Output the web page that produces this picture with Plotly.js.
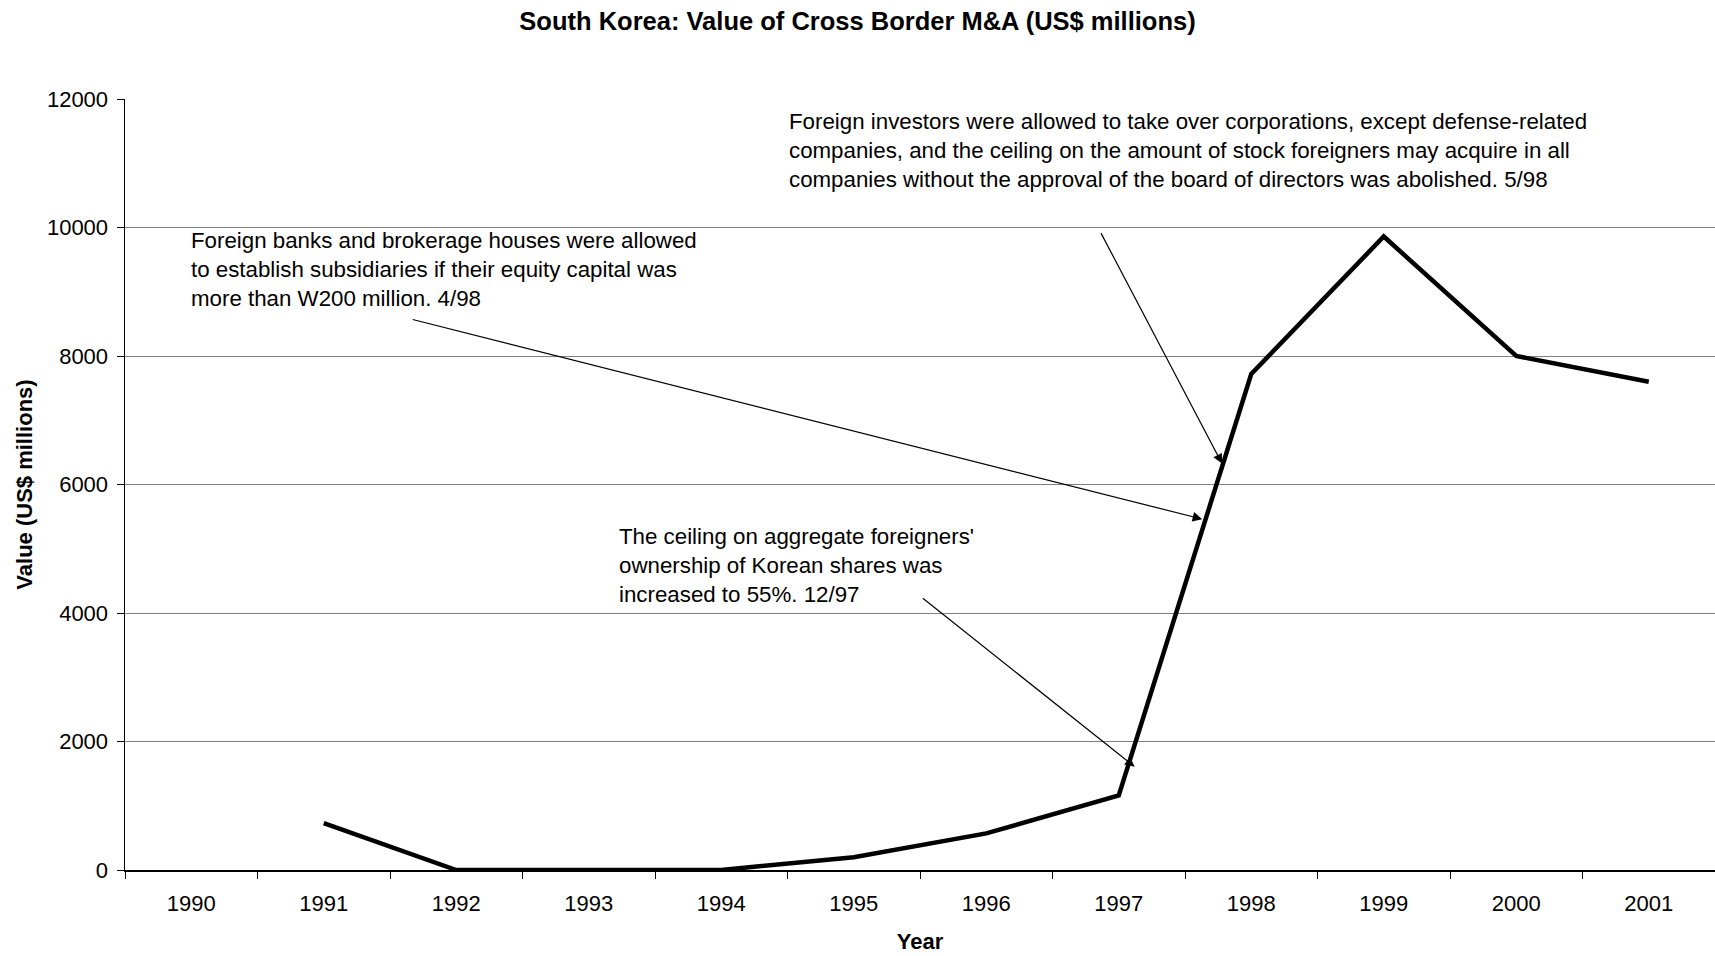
<!DOCTYPE html>
<html>
<head>
<meta charset="utf-8">
<script src="https://cdn.plot.ly/plotly-3.0.1.min.js"></script>
<style>
  html, body { margin: 0; padding: 0; background: #ffffff; }
  #chart { width: 1715px; height: 956px; }
</style>
</head>
<body>
<div id="chart"></div>
<script>
// ---- Data ----
const years = ["1990", "1991", "1992", "1993", "1994", "1995", "1996", "1997", "1998", "1999", "2000", "2001"];
const values = [null, 730, 0, 0, 0, 200, 570, 1160, 7720, 9860, 8000, 7600];

const chartTitle = "South Korea: Value of Cross Border M&A (US$ millions)";
const xTitle = "Year";
const yTitle = "Value (US$ millions)";
const yTicks = [0, 2000, 4000, 6000, 8000, 10000, 12000];

const noteTexts = [
  "Foreign investors were allowed to take over corporations, except defense-related<br>companies, and the ceiling on the amount of stock foreigners may acquire in all<br>companies without the approval of the board of directors was abolished. 5/98",
  "Foreign banks and brokerage houses were allowed<br>to establish subsidiaries if their equity capital was<br>more than W200 million. 4/98",
  "The ceiling on aggregate foreigners'<br>ownership of Korean shares was<br>increased to 55%. 12/97"
];
// text anchor positions (category index, value) and arrow tails/tips
const noteX = [4.493, -0.017, 3.213];
const noteY = [11200, 9340, 4740];
const arrowTailX = [6.86, 1.66, 5.51];
const arrowTailY = [9936, 8574, 4248];
const arrowTipX = [7.78, 7.63, 7.12];
const arrowTipY = [6325, 5461, 1607];

const FONT = "'Liberation Sans', Arial, Helvetica, sans-serif";

const trace = {
  type: "scatter",
  mode: "lines",
  x: years,
  y: values,
  connectgaps: false,
  line: { color: "#000000", width: 4.5 },
  hoverinfo: "x+y",
  showlegend: false
};

const annotations = [];
for (let i = 0; i < noteTexts.length; i++) {
  annotations.push({
    xref: "x", yref: "y",
    x: noteX[i], y: noteY[i],
    xanchor: "left", yanchor: "middle",
    align: "left",
    text: noteTexts[i],
    showarrow: false,
    font: { family: FONT, size: 22.3, color: "#000000" }
  });
  annotations.push({
    xref: "x", yref: "y", axref: "x", ayref: "y",
    x: arrowTipX[i], y: arrowTipY[i],
    ax: arrowTailX[i], ay: arrowTailY[i],
    text: "",
    showarrow: true,
    arrowhead: 2,
    arrowsize: 1.6,
    arrowwidth: 1.2,
    arrowcolor: "#000000",
    standoff: 0,
    startstandoff: 0
  });
}

const layout = {
  width: 1715,
  height: 956,
  paper_bgcolor: "#ffffff",
  plot_bgcolor: "#ffffff",
  font: { family: FONT, size: 22, color: "#000000" },
  margin: { l: 125, r: 0, t: 99, b: 86, pad: 0 },
  title: {
    text: "<b>" + chartTitle + "</b>",
    font: { family: FONT, size: 25.5, color: "#000000" },
    x: 0.5, xanchor: "center",
    y: 1 - 21 / 956, yanchor: "middle",
    xref: "container", yref: "container"
  },
  xaxis: {
    type: "category",
    range: [-0.5, 11.5],
    tickson: "boundaries",
    ticks: "outside",
    ticklen: 7,
    tickwidth: 1,
    tickcolor: "#000000",
    showline: true,
    linecolor: "#000000",
    linewidth: 1.5,
    showgrid: false,
    zeroline: false,
    tickfont: { family: FONT, size: 22, color: "#000000" },
    ticklabelstandoff: 13,
    title: {
      text: "<b>" + xTitle + "</b>",
      font: { family: FONT, size: 22, color: "#000000" },
      standoff: 18
    },
    fixedrange: true
  },
  yaxis: {
    range: [0, 12000],
    tickvals: yTicks,
    ticktext: yTicks.map(String),
    ticks: "outside",
    ticklen: 7,
    tickwidth: 1,
    tickcolor: "#000000",
    showline: true,
    linecolor: "#000000",
    linewidth: 1.5,
    showgrid: true,
    gridcolor: "#808080",
    gridwidth: 1,
    zeroline: false,
    tickfont: { family: FONT, size: 22, color: "#000000" },
    ticklabelstandoff: 4,
    title: {
      text: "<b>" + yTitle + "</b>",
      font: { family: FONT, size: 22, color: "#000000" },
      standoff: 7.5
    },
    fixedrange: true
  },
  annotations: annotations,
  showlegend: false
};

Plotly.newPlot("chart", [trace], layout, { displayModeBar: false, staticPlot: true });
</script>
</body>
</html>
